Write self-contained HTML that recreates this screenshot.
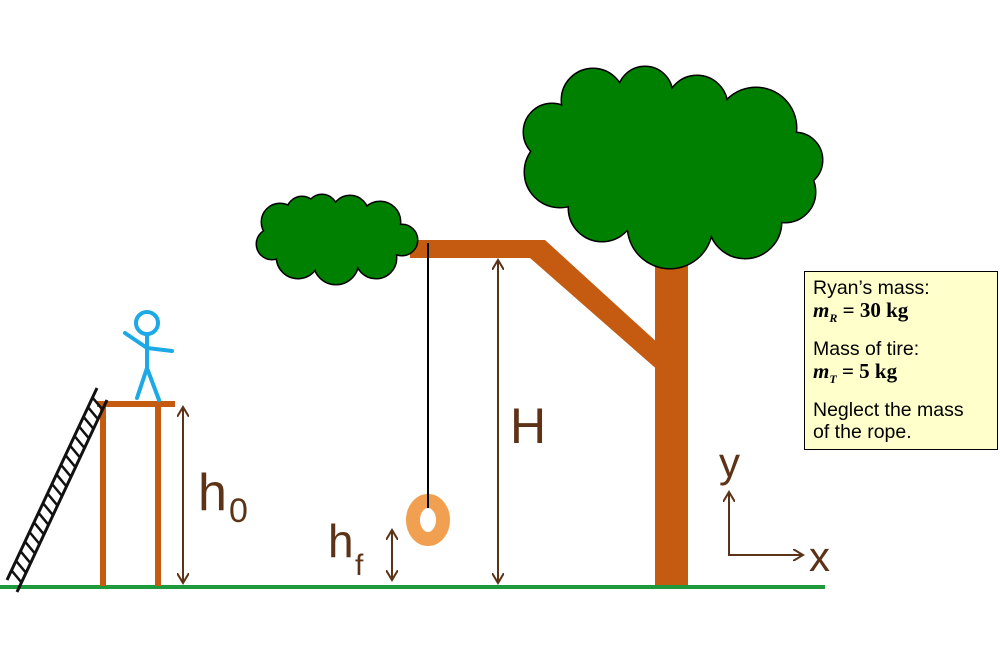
<!DOCTYPE html>
<html><head><style>
body{margin:0;background:#fff;width:1000px;height:658px;overflow:hidden;position:relative;font-family:"Liberation Sans",sans-serif}
.box{position:absolute;left:804px;top:271px;width:194px;height:179px;background:#FFFFCC;border:1.5px solid #000;box-sizing:border-box;padding:5px 0 0 8px;font-size:19.5px;line-height:22px;color:#000}
.box p{margin:0 0 9px 0}
.m{font-family:"Liberation Serif",serif;font-weight:bold;font-size:21px}
</style></head><body>
<svg width="1000" height="658" style="position:absolute;left:0;top:0">
<defs>
<g id="big">
<circle cx="593" cy="100" r="31"/><circle cx="645" cy="94" r="27"/><circle cx="697" cy="106" r="30"/>
<circle cx="756" cy="128" r="40"/><circle cx="795" cy="160" r="27"/><circle cx="785" cy="192" r="30"/>
<circle cx="552" cy="132" r="28"/><circle cx="560" cy="172" r="35"/><circle cx="602" cy="208" r="33"/>
<circle cx="670" cy="226" r="42"/><circle cx="745" cy="222" r="36"/><circle cx="680" cy="160" r="62"/>
<ellipse cx="670" cy="165" rx="120" ry="70"/>
</g>
<g id="small">
<circle cx="280" cy="222" r="18"/><circle cx="302" cy="212" r="15"/><circle cx="322" cy="210" r="15"/>
<circle cx="350" cy="214" r="18"/><circle cx="380" cy="222" r="20"/><circle cx="402" cy="240" r="15"/>
<circle cx="272" cy="244" r="15"/><circle cx="298" cy="257" r="21"/><circle cx="336" cy="262" r="22"/>
<circle cx="376" cy="258" r="20"/><circle cx="340" cy="238" r="30"/>
<ellipse cx="335" cy="240" rx="65" ry="28"/>
</g>
<marker id="ah" markerWidth="12" markerHeight="12" refX="10" refY="6" orient="auto-start-reverse" markerUnits="userSpaceOnUse"><path d="M0,0 L10,6 L0,12" fill="none" stroke="#5C3317" stroke-width="2"/></marker>
</defs>
<rect x="655" y="262" width="33" height="325" fill="#C55A11"/>
<polygon points="410,240 545,240 660,345 660,372 530,258 410,258" fill="#C55A11"/>
<use href="#big" fill="#000" stroke="#000" stroke-width="3"/>
<use href="#big" fill="#008000"/>
<use href="#small" fill="#000" stroke="#000" stroke-width="3"/>
<use href="#small" fill="#008000"/>
<ellipse cx="428" cy="520" rx="15" ry="19" fill="none" stroke="#F0A050" stroke-width="14"/>
<line x1="428" y1="243" x2="428" y2="508" stroke="#000" stroke-width="2"/>
<line x1="0" y1="587" x2="825" y2="587" stroke="#1E9A3C" stroke-width="4"/>
<rect x="97" y="401" width="78" height="6" fill="#C55A11"/>
<rect x="100" y="401" width="6" height="185" fill="#C55A11"/>
<rect x="155" y="401" width="6" height="185" fill="#C55A11"/>
<g stroke="#111" stroke-width="3">
<line x1="7" y1="580" x2="97" y2="388"/><line x1="17" y1="592" x2="107" y2="400"/>
</g>
<g stroke="#111" stroke-width="2.5" id="rungs"></g>
<g stroke="#1CA9E6" stroke-width="4" fill="none" stroke-linecap="round">
<circle cx="147" cy="323" r="11"/>
<line x1="147" y1="334" x2="147" y2="368"/>
<polyline points="125,333 147,348 172,351"/>
<polyline points="137,398 147,368 159,400"/>
</g>
<g stroke="#5C3317" stroke-width="2" fill="none">
<line x1="183" y1="407" x2="183" y2="583" marker-start="url(#ah)" marker-end="url(#ah)"/>
<line x1="498" y1="260" x2="498" y2="583" marker-start="url(#ah)" marker-end="url(#ah)"/>
<line x1="392" y1="530" x2="392" y2="580" marker-start="url(#ah)" marker-end="url(#ah)"/>
<polyline points="729,492 729,555 803,555" marker-end="url(#ah)"/>
<line x1="729" y1="555" x2="729" y2="492" marker-end="url(#ah)"/>
</g>
<g fill="#5C3317" font-family="Liberation Sans, sans-serif">
<text x="198" y="510" font-size="52">h</text><text x="229" y="522" font-size="34">0</text>
<text x="328" y="557" font-size="46">h</text><text x="355" y="575" font-size="30">f</text>
<text x="510" y="443" font-size="50">H</text>
<text x="719" y="477" font-size="42">y</text>
<text x="809" y="571" font-size="42">x</text>
</g>
</svg>
<script>
var g=document.getElementById('rungs'),s='';
for(var i=1;i<20;i++){var t=i/20;var x1=7+90*t,y1=580-192*t;s+='<line x1="'+x1+'" y1="'+y1+'" x2="'+(x1+10)+'" y2="'+(y1+12)+'"/>';}
g.innerHTML=s;
</script>
<div class="box">
<p>Ryan’s mass:<br><span class="m"><i>m<sub style="font-size:12px">R</sub></i> = 30 kg</span></p>
<p>Mass of tire:<br><span class="m"><i>m<sub style="font-size:12px">T</sub></i> = 5 kg</span></p>
<p>Neglect the mass<br>of the rope.</p>
</div>
</body></html>
